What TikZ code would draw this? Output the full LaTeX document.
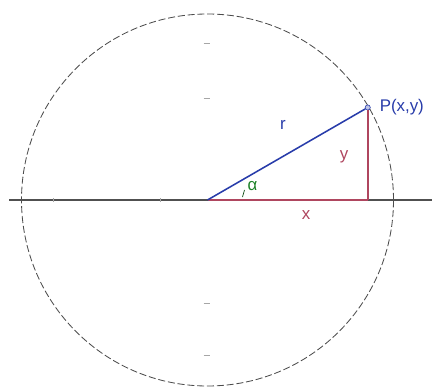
\documentclass[tikz,border=0pt]{standalone}
\usepackage{fontspec}
\setmainfont{Liberation Sans}
\definecolor{radblue}{RGB}{40,60,170}
\definecolor{legred}{RGB}{175,70,95}
\definecolor{anggreen}{RGB}{30,130,40}
\definecolor{axisgray}{RGB}{80,80,80}
\tikzset{
  lbl/.style={inner sep=0pt, font=\fontsize{12}{14}\selectfont},
  tickmark/.style={gray!70, line width=0.5pt},
  leg/.style={legred, line width=1.4pt}
}
\begin{document}
\begin{tikzpicture}[x=0.025cm, y=0.025cm, >=latex]
			\useasboundingbox (-207.5,-187) rectangle (224.5,200);
			\coordinate (O) at (0,0);
			\coordinate (xl) at (-198,0);
			\coordinate (xr) at (224.5,0);
			% circle and axis
			\draw[black!70, dashed, dash pattern=on 5pt off 2pt, line width=0.6pt] (O) circle (186);
			\draw[axisgray, line width=0.9pt] (xl) -- (xr);
			\foreach \t in {157,102,-103,-155}
				{
					\draw[tickmark] (-4,\t) -- (2,\t);
				}
			\foreach \t in {-154,-47}
				{
					\draw[tickmark] (\t,-2) -- (\t,2);
				}
			% point and triangle
			\node[circle, inner sep=1.3pt, draw=radblue, fill=radblue!30] (P) at (30:185) {};
			\coordinate (F) at (P.center |- O);
			\draw[leg] (O) -- (F);
			\draw[leg] (F) -- (P.south);
			\draw[radblue, line width=1.1pt] (O) -- (P);
			\draw[anggreen!60!black, line width=0.5pt] (35,3) -- (37,10);
			% labels
			\node[lbl, text=radblue, anchor=west] (Plab) at (172,93) {P(x,y)};
			\node[lbl, text=radblue] (rlab) at (75.5,75) {r};
			\node[lbl, text=legred] (ylab) at (136.5,43) {y};
			\node[lbl, text=anggreen] (alab) at (45,14) {α};
			\node[lbl, text=legred] (xlab) at (98.5,-15) {x};
		\end{tikzpicture}
\end{document}
